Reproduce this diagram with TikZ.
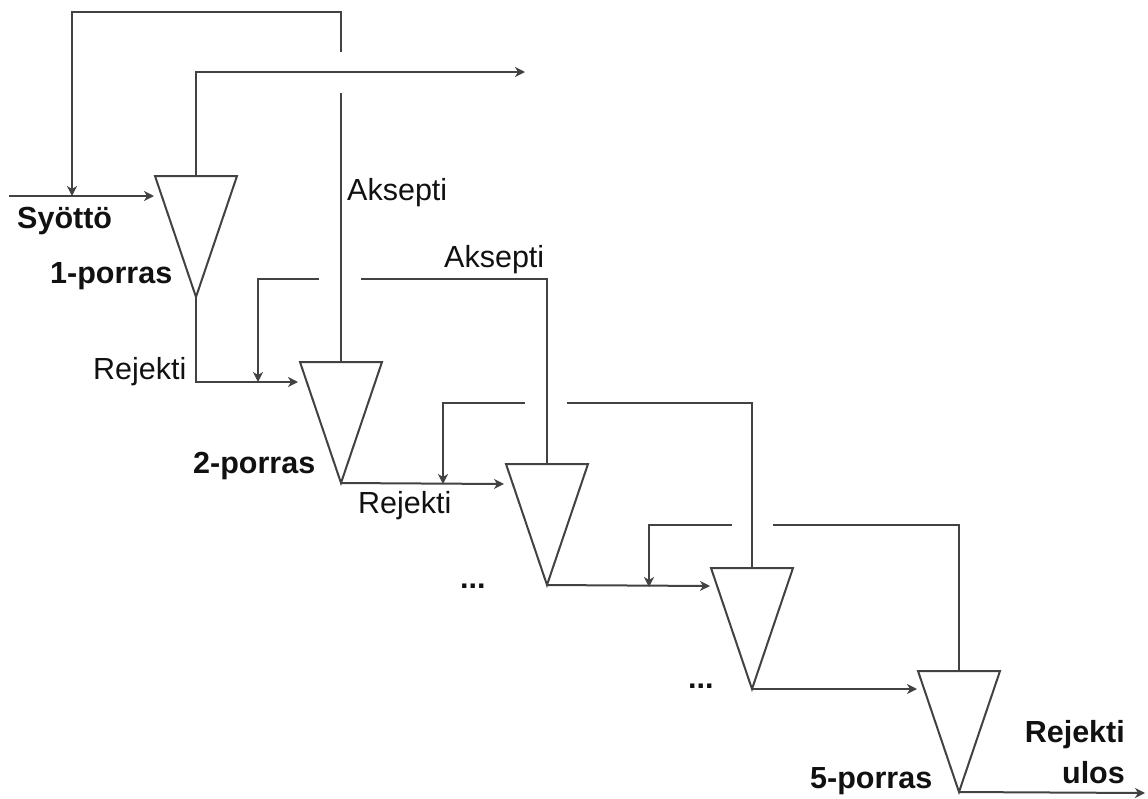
\documentclass[tikz,border=0pt]{standalone}
\usepackage{fontspec}
\setmainfont{Liberation Sans}
\usetikzlibrary{arrows.meta}
\definecolor{linegray}{HTML}{424242}
\definecolor{textblack}{HTML}{111111}
\tikzset{
  flow/.style={draw=linegray, line width=2pt, line join=miter},
  arrowflow/.style={flow, -{Stealth[length=10pt,width=10pt,inset=3pt]}},
  cone/.style={draw=linegray, line width=2pt, line join=miter, fill=white},
  lbl/.style={anchor=base west, inner sep=0pt, text=textblack,
              font=\fontsize{30.5}{36}\selectfont},
  lblb/.style={lbl, font=\fontsize{30.5}{36}\selectfont\bfseries},
}
% \stage{name}{centre x}{top y}: a screen cone with named top, corners and apex
\newcommand{\stage}[3]{%
  \coordinate (#1top) at (#2,#3);
  \coordinate (#1tl) at (#2-41,#3);
  \coordinate (#1tr) at (#2+41,#3);
  \coordinate (#1bot) at (#2,#3+121);
  \draw[cone] (#1tl) -- (#1tr) -- (#1bot) -- cycle;
}
\begin{document}
\begin{tikzpicture}[x=1pt, y=-1pt]
\useasboundingbox (0,0) rectangle (1148,798);

% screen stages
\stage{s1}{196}{176}
\stage{s2}{341}{362}
\stage{s3}{547}{464}
\stage{s4}{752}{568}
\stage{s5}{959}{671}

% feed and end points
\coordinate (feedin) at (9,196);
\coordinate (feedto) at (154,196);
\coordinate (acceptout) at (525,72);
\coordinate (rejectout) at (1145,793);

% feed into stage 1
\draw[arrowflow] (feedin) -- (feedto);

% accept of stage 1 leaves the system
\draw[arrowflow] (s1top) |- (acceptout);

% accept of stage 2 returns to the feed (broken where it crosses)
\coordinate (r2gapA) at (341,93);
\coordinate (r2gapB) at (341,52);
\draw[flow] (s2top) -- (r2gapA);
\draw[arrowflow] (r2gapB) |- (72,12) -- (72,196);

% reject of stage 1 to stage 2
\coordinate (j1to) at (298,382);
\draw[arrowflow] (s1bot) |- (j1to);

% accept of stage 3 back to the inlet of stage 2
\coordinate (r3gapA) at (361,279);
\coordinate (r3gapB) at (319,279);
\draw[flow] (s3top) |- (r3gapA);
\draw[arrowflow] (r3gapB) -| (258,382);

% reject of stage 2 to stage 3
\coordinate (j2to) at (504,484);
\draw[arrowflow] (s2bot) -- (j2to);

% accept of stage 4 back to the inlet of stage 3
\coordinate (r4gapA) at (567,403);
\coordinate (r4gapB) at (525,403);
\draw[flow] (s4top) |- (r4gapA);
\draw[arrowflow] (r4gapB) -| (443,484);

% reject of stage 3 to stage 4
\coordinate (j3to) at (710,586);
\draw[arrowflow] (s3bot) -- (j3to);

% accept of stage 5 back to the inlet of stage 4
\coordinate (r5gapA) at (773,525);
\coordinate (r5gapB) at (732,525);
\draw[flow] (s5top) |- (r5gapA);
\draw[arrowflow] (r5gapB) -| (649,587);

% reject of stage 4 to stage 5
\coordinate (j4to) at (917,689);
\draw[arrowflow] (s4bot) -- (j4to);

% final reject
\draw[arrowflow] (s5bot) -- (rejectout);

% labels
\node[lblb] (syotto) at (17,228) {Syöttö};
\node[lblb] (p1) at (50,283) {1-porras};
\node[lbl] (ak1) at (347,200) {Aksepti};
\node[lbl] (ak2) at (444,267) {Aksepti};
\node[lbl] (rj1) at (93,379) {Rejekti};
\node[lblb] (p2) at (193,473) {2-porras};
\node[lbl] (rj2) at (358,513) {Rejekti};
\node[lblb] (dots1) at (460,588) {...};
\node[lblb] (dots2) at (688,688) {...};
\node[lblb] (p5) at (810,788) {5-porras};
\node[lblb, anchor=base east] (rjout) at (1125,742) {Rejekti};
\node[lblb, anchor=base east] (ulos) at (1125,783) {ulos};
\end{tikzpicture}
\end{document}
